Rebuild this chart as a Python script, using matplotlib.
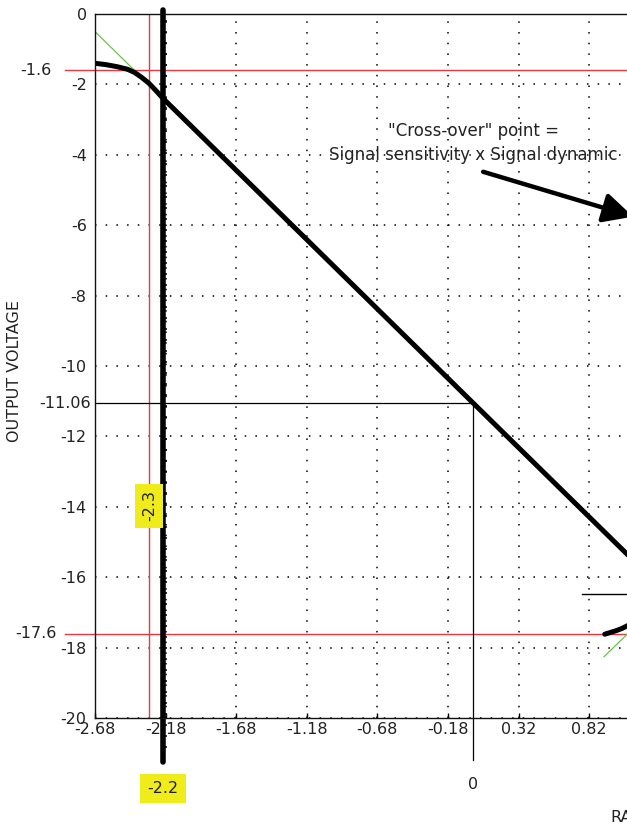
import numpy as np
import matplotlib
matplotlib.use("Agg")
import matplotlib.pyplot as plt

# ── Data ──
x_ticks = [-2.68, -2.18, -1.68, -1.18, -0.68, -0.18, 0.32, 0.82]
x_max = 2.32
y_ticks = [0, -2, -4, -6, -8, -10, -12, -14, -16, -18, -20]

# transfer curve (soft clip at top, then linear)
curve_x = [-2.68, -2.60, -2.52, -2.45, -2.40, -2.35, -2.30, -2.25, -2.20, 0.0, 1.12]
curve_y = [-1.40, -1.44, -1.50, -1.57, -1.66, -1.80, -1.96, -2.17, -2.39, -11.06, -15.47]

# lower branch near bottom clip
low_x = [0.93, 0.97, 1.01, 1.05, 1.09, 1.13]
low_y = [-17.62, -17.57, -17.52, -17.46, -17.38, -17.30]

# ideal linear extensions (green)
ideal_top_x = [-2.68, -2.34]
ideal_top_y = [-0.50, -1.84]
ideal_bot_x = [0.925, 1.13]
ideal_bot_y = [-18.26, -17.46]

clip_hi = -1.6
clip_lo = -17.6
cross_y = -11.06
sens_x = -2.3
dyn_x = -2.2
zero_x = 0.0
level_y = -16.47
level_x0 = 0.77

# ── Figure ──
fig = plt.figure(figsize=(6.27, 8.32), dpi=100)
W, H = 627, 832
ax_l, ax_b, ax_t = 95, 718, 14
ax_w = 141.2 * (x_max - x_ticks[0])
ax = fig.add_axes([ax_l / W, 1 - ax_b / H, ax_w / W, (ax_b - ax_t) / H])
ax.set_xlim(x_ticks[0], x_max)
ax.set_ylim(-20, 0)

txt = "#222222"
fs = 11.5
ax.set_xticks(x_ticks)
ax.set_xticklabels([f"{v:.2f}" for v in x_ticks])
ax.set_yticks(y_ticks)
ax.set_yticklabels([str(v) for v in y_ticks])
ax.tick_params(axis="x", direction="in", length=3.5, width=1, pad=3,
               labelsize=fs, labelcolor=txt)
ax.tick_params(axis="y", length=0, pad=6, labelsize=fs, labelcolor=txt)
for s in ax.spines.values():
    s.set_linewidth(1.0)
    s.set_color("#111111")

ax.grid(True, color="black", linestyle=(0, (1, 6)), linewidth=1.1)
ax.set_axisbelow(True)

# red clip levels
ax.plot([-2.89, x_max], [clip_hi, clip_hi], color="#e8383d", lw=1.0, clip_on=False)
ax.plot([-2.89, x_max], [clip_lo, clip_lo], color="#e8383d", lw=1.0, clip_on=False)
ax.axvline(sens_x, color="#e8383d", lw=1.0)

# cross-over guides
ax.plot([x_ticks[0], zero_x], [cross_y, cross_y], color="black", lw=0.9)
ax.plot([zero_x, zero_x], [cross_y, -21.2], color="black", lw=0.9, clip_on=False)
ax.plot([level_x0, x_max], [level_y, level_y], color="black", lw=1.0)

# green ideal lines
ax.plot(ideal_top_x, ideal_top_y, color="#6cc24a", lw=0.9)
ax.plot(ideal_bot_x, ideal_bot_y, color="#6cc24a", lw=0.9)

# thick dynamic marker line with small ruler ticks
ax.plot([dyn_x, dyn_x], [0.11, -21.25], color="black", lw=4.0,
        solid_capstyle="round", clip_on=False)
rt = np.arange(-0.2, -21.0, -0.3125)
ax.plot(np.full(len(rt), dyn_x + 0.016), rt, ls="none", marker="_",
        ms=3.5, mew=1.1, color="black", clip_on=False)

# transfer curve
ax.plot(curve_x, curve_y, color="black", lw=3.6, solid_capstyle="round",
        solid_joinstyle="round")
ax.plot(low_x, low_y, color="black", lw=3.6, solid_capstyle="round")

# extra y labels
ax.text(-2.985, clip_hi, "-1.6", ha="right", va="center", fontsize=fs, color=txt, clip_on=False)
ax.text(-2.949, clip_lo, "-17.6", ha="right", va="center", fontsize=fs, color=txt, clip_on=False)
ax.text(-2.709, cross_y, "-11.06", ha="right", va="center", fontsize=fs, color=txt, clip_on=False)

# yellow value tags
yellow = "#f0ec1c"
ax.text(dyn_x, -22.0, "-2.2", ha="center", va="center", fontsize=fs, color=txt,
        bbox=dict(boxstyle="square,pad=0.45", fc=yellow, ec="none"), clip_on=False)
ax.text(sens_x + 0.005, -13.97, "-2.3", ha="center", va="center", rotation=90,
        fontsize=fs, color=txt,
        bbox=dict(boxstyle="square,pad=0.4", fc=yellow, ec="none"))
ax.text(zero_x, -21.9, "0", ha="center", va="center", fontsize=fs, color=txt, clip_on=False)

# annotation
ax.text(zero_x, -3.33, "\"Cross-over\" point =", ha="center", va="center",
        fontsize=12, color=txt, clip_on=False)
ax.text(zero_x, -4.01, "Signal sensitivity x Signal dynamic", ha="center", va="center",
        fontsize=12, color=txt, clip_on=False)
ax.annotate("", xy=(1.15, -5.78), xytext=(0.05, -4.46),
            arrowprops=dict(arrowstyle="-|>,head_length=0.9,head_width=0.45",
                            lw=3.2, color="black", mutation_scale=20),
            annotation_clip=False)

fig.text(15 / W, 1 - 371 / H, "OUTPUT VOLTAGE", rotation=90, ha="center", va="center",
         fontsize=fs, color=txt)
fig.text(610 / W, 1 - 817 / H, "RANGE", ha="left", va="center", fontsize=fs, color=txt)

fig.savefig("out.png", dpi=100)
